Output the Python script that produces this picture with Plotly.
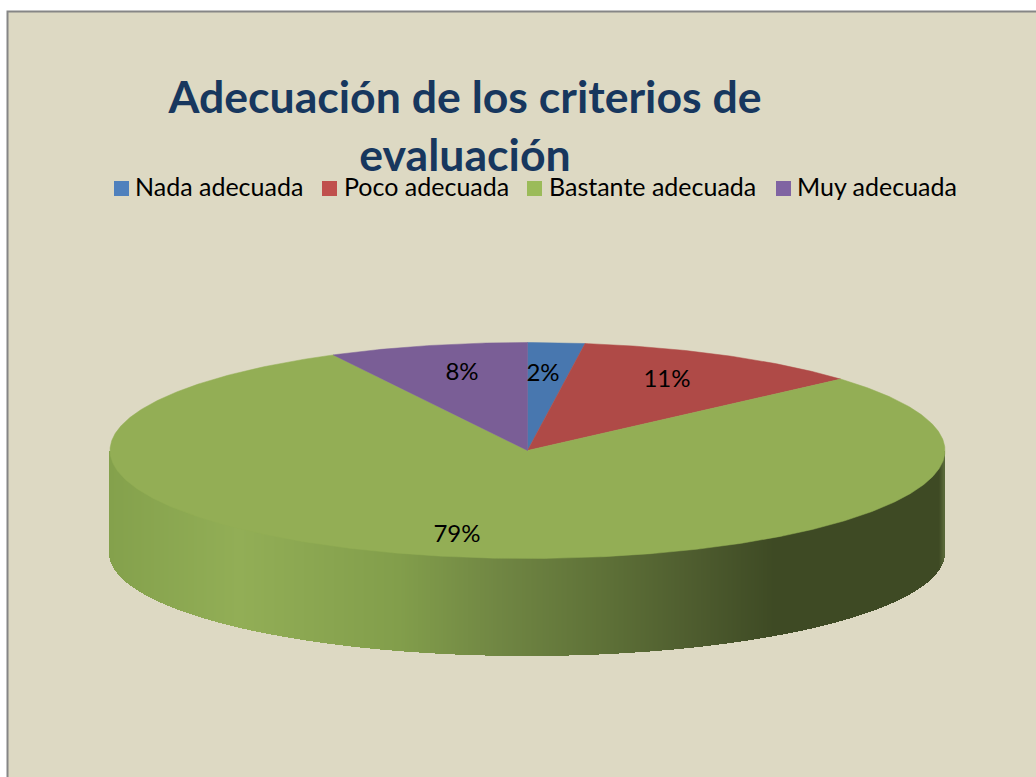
import math
import plotly.graph_objects as go

# --- data ---
categories = ["Nada adecuada", "Poco adecuada", "Bastante adecuada", "Muy adecuada"]
values = [2.2, 11.3, 78.8, 7.7]
title_text = "Adecuación de los criterios de<br>evaluación"

# --- style ---
top_colors = ["#4877AF", "#AF4A47", "#93AE55", "#7A5E96"]
legend_colors = ["#4F81BD", "#C0504D", "#9BBB59", "#8064A2"]
BG = "#DDD9C3"
FONT = "Lato"
W, H = 1036, 777
CX, CY, RX, RY = 527.5, 450.5, 417.5, 108.0
BOTTOM_EDGE, BOTTOM_RY = 553.0, 103.0
LABEL_XY = [(543, 375), (667, 381), (457, 536), (462, 374)]
LEGEND_MARK_X = [121.5, 329.5, 534.5, 783.5]
LEGEND_TEXT_X = [135, 344, 549, 797]
LEGEND_Y = 188.5
# side-wall shading: (x pixel, colour) stops
SHADE = [(110, (0x84, 0xA1, 0x4C)), (240, (0x92, 0xAE, 0x56)), (400, (0x82, 0x9E, 0x4B)),
         (500, (0x70, 0x86, 0x43)), (600, (0x5F, 0x72, 0x38)), (700, (0x4D, 0x5B, 0x2E)),
         (775, (0x3E, 0x4A, 0x24)), (940, (0x3E, 0x4A, 0x24)), (945, (0x5A, 0x6A, 0x3A))]


def shade(x):
    for (x0, c0), (x1, c1) in zip(SHADE, SHADE[1:]):
        if x <= x1:
            t = max(0.0, (x - x0) / (x1 - x0))
            return "rgb(%d,%d,%d)" % tuple(round(a + (b - a) * t) for a, b in zip(c0, c1))
    return "rgb(%d,%d,%d)" % SHADE[-1][1]


fig = go.Figure()

# side wall as thin bars
xs, bases, heights, cols = [], [], [], []
x = CX - RX
while x < CX + RX:
    mid = x + 0.5
    u = (mid - CX) / RX
    root = math.sqrt(max(0.0, 1 - u * u))
    bottom = BOTTOM_EDGE + BOTTOM_RY * root
    xs.append(mid); bases.append(CY); heights.append(bottom - CY); cols.append(shade(mid))
    x += 1
fig.add_trace(go.Bar(x=xs, y=heights, base=bases, width=1.2, marker=dict(color=cols, line_width=0),
                     showlegend=False, hoverinfo="skip"))

# top face slices
total = sum(values)
start = 0.0
for name, v, col in zip(categories, values, top_colors):
    end = start + v / total * 2 * math.pi
    n = max(8, int((end - start) * 120))
    angles = [start + (end - start) * i / n for i in range(n + 1)]
    px = [CX] + [CX + RX * math.sin(a) for a in angles] + [CX]
    py = [CY] + [CY - RY * math.cos(a) for a in angles] + [CY]
    fig.add_trace(go.Scatter(x=px, y=py, mode="lines", fill="toself", fillcolor=col,
                             line=dict(color=col, width=0.5), showlegend=False,
                             name=name, hoverinfo="name"))
    start = end

# value labels
fig.add_trace(go.Scatter(x=[p[0] for p in LABEL_XY], y=[p[1] for p in LABEL_XY], mode="text",
                         text=["%d%%" % round(v) for v in values],
                         textfont=dict(family=FONT, size=24, color="#000000"),
                         textposition="middle center", showlegend=False, hoverinfo="skip"))

# legend row
fig.add_trace(go.Scatter(x=LEGEND_MARK_X, y=[LEGEND_Y] * 4, mode="markers", showlegend=False,
                         hoverinfo="skip", cliponaxis=False,
                         marker=dict(symbol="square", size=15, color=legend_colors, line_width=0)))
fig.add_trace(go.Scatter(x=LEGEND_TEXT_X, y=[LEGEND_Y + 1] * 4, mode="text", text=categories,
                         textposition="middle right", showlegend=False, hoverinfo="skip",
                         textfont=dict(family=FONT, size=25, color="#000000")))

fig.update_layout(
    width=W, height=H, margin=dict(l=0, r=0, t=0, b=0),
    paper_bgcolor="#FFFFFF", plot_bgcolor="#FFFFFF", autosize=False,
    barmode="overlay", bargap=0, showlegend=False,
    xaxis=dict(range=[0, W], visible=False, fixedrange=True),
    yaxis=dict(range=[H, 0], visible=False, fixedrange=True),
    shapes=[dict(type="rect", xref="x", yref="y", x0=7.5, x1=W + 5, y0=11.5, y1=H + 5,
                 fillcolor=BG, line=dict(color="#868686", width=2), layer="below")],
    title=dict(text=title_text, x=465 / W, xanchor="center", xref="paper",
               y=1 - 113 / H, yanchor="top",
               font=dict(family=FONT, size=44.6, color="#17375E", weight="bold")),
)

fig.write_html("out.html", config={"displayModeBar": False},
               post_script="document.body.style.margin='0';document.body.style.overflow='hidden';")
